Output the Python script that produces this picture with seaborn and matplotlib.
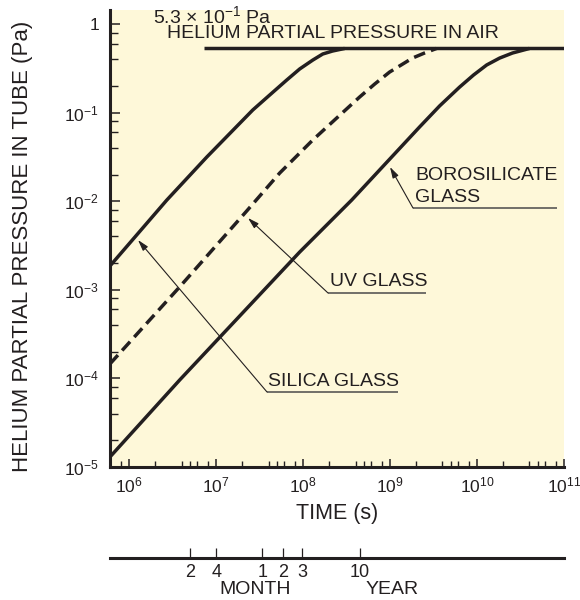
import numpy as np
import pandas as pd
import matplotlib
matplotlib.use("Agg")
import matplotlib.pyplot as plt
import matplotlib.ticker as mticker
import seaborn as sns

# ---------------- data ----------------
silica_t = [6.0e5, 2.70e6, 7.78e6, 2.63e7, 4.12e7, 6.46e7, 9.12e7, 1.29e8, 1.68e8, 2.18e8, 3.0e8]
silica_p = [1.86e-3, 1.03e-2, 3.15e-2, 0.107, 0.158, 0.233, 0.311, 0.392, 0.459, 0.496, 0.53]

uv_t = [6.0e5, 3.80e6, 2.24e7, 5.37e7, 1.29e8, 2.43e8, 4.46e8, 6.64e8, 9.86e8, 1.81e9, 2.49e9, 3.42e9]
uv_p = [1.46e-4, 1.08e-3, 7.75e-3, 2.08e-2, 4.91e-2, 0.0869, 0.150, 0.210, 0.287, 0.413, 0.471, 0.53]

boro_t = [6.0e5, 3.80e6, 9.12e7, 3.61e8, 2.18e9, 3.71e9, 6.29e9, 9.12e9, 1.29e10, 1.82e10, 2.56e10, 4.01e10]
boro_p = [1.30e-5, 9.6e-5, 2.67e-3, 1.03e-2, 6.88e-2, 0.119, 0.194, 0.266, 0.345, 0.413, 0.471, 0.53]

air_t = [7.2e6, 1.0e11]
air_p = [0.53, 0.53]

time_marks = [5.0e6, 1.0e7, 3.4e7, 5.9e7, 9.8e7, 4.5e8]
time_mark_labels = ["2", "4", "1", "2", "3", "10"]

# ---------------- style ----------------
sns.set_style("ticks")
plt.rcParams["font.family"] = ["Liberation Sans", "DejaVu Sans"]
plt.rcParams["mathtext.default"] = "regular"
INK = "#231f20"
CREAM = "#fef8d9"

fig = plt.figure(figsize=(5.8, 6.0), dpi=100)
ax = fig.add_axes([110 / 580, 1 - 467 / 600, 454 / 580, 457 / 600])
ax.set_facecolor(CREAM)

def draw(t, p, dashed=False):
    df = pd.DataFrame({"t": t, "p": p})
    sns.lineplot(data=df, x="t", y="p", ax=ax, color=INK, lw=2.5,
                 sort=False, estimator=None,
                 dashes=False, solid_capstyle="butt", solid_joinstyle="round",
                 linestyle="--" if dashed else "-")

draw(air_t, air_p)
draw(silica_t, silica_p)
draw(boro_t, boro_p)
draw(uv_t, uv_p, dashed=True)
for ln in ax.lines:
    if ln.get_linestyle() == "--":
        ln.set_dashes((3.4, 1.8))

ax.set_xscale("log")
ax.set_yscale("log")
ax.set_xlim(6.0e5, 1.0e11)
ax.set_ylim(1.0e-5, 1.44)

for s in ["top", "right"]:
    ax.spines[s].set_visible(False)
for s in ["left", "bottom"]:
    ax.spines[s].set_linewidth(2.2)
    ax.spines[s].set_color(INK)

def yfmt(v, pos):
    e = int(round(np.log10(v)))
    return "1" if e == 0 else r"$10^{%d}$" % e

def xfmt(v, pos):
    e = int(round(np.log10(v)))
    return r"$10^{%d}$" % e

ax.yaxis.set_major_locator(mticker.LogLocator(base=10, numticks=20))
ax.yaxis.set_minor_locator(mticker.LogLocator(base=10, subs=(2, 4, 6, 8), numticks=20))
ax.yaxis.set_major_formatter(mticker.FuncFormatter(yfmt))
ax.yaxis.set_minor_formatter(mticker.NullFormatter())
ax.xaxis.set_major_locator(mticker.LogLocator(base=10, numticks=20))
ax.xaxis.set_minor_locator(mticker.LogLocator(base=10, subs=(2, 4, 5, 6, 8), numticks=20))
ax.xaxis.set_major_formatter(mticker.FuncFormatter(xfmt))
ax.xaxis.set_minor_formatter(mticker.NullFormatter())

ax.tick_params(axis="y", which="major", direction="in", length=7.5, width=1.1,
               color=INK, labelsize=12.5, labelcolor=INK, pad=8)
ax.tick_params(axis="y", which="minor", direction="in", length=6, width=1.0, color=INK)
ax.tick_params(axis="x", which="major", direction="in", length=6, width=1.1,
               color=INK, labelsize=12.5, labelcolor=INK, pad=6)
ax.tick_params(axis="x", which="minor", direction="in", length=4, width=1.0, color=INK)

ax.set_xlabel("TIME (s)", fontsize=15.5, color=INK)
ax.xaxis.set_label_coords(0.5, (467 - 513) / 457)
ax.xaxis.label.set_va("center")
ax.set_ylabel("HELIUM PARTIAL PRESSURE IN TUBE (Pa)", fontsize=16, color=INK)
ax.yaxis.set_label_coords((22.5 - 110) / 454, (467 - 246) / 457)
ax.yaxis.label.set_va("center")

# ---------------- annotations (pixel -> axes fraction) ----------------
def fx(px):
    return (px - 110) / 454

def fy(py):
    return (467 - py) / 457

TS = 14
ax.text(fx(153), fy(16), r"5.3 × $10^{-1}$ Pa", fontsize=TS, color=INK,
        transform=ax.transAxes, ha="left", va="center", clip_on=False)
ax.text(fx(167), fy(34), "HELIUM PARTIAL PRESSURE IN AIR", fontsize=TS, color=INK,
        transform=ax.transAxes, ha="left", va="center", clip_on=False)

def callout(lines, text_x, text_ys, ul_y, ul_x0, ul_x1, tip):
    for s, yy in zip(lines, text_ys):
        ax.text(fx(text_x), fy(yy), s, fontsize=TS, color=INK,
                transform=ax.transAxes, ha="left", va="center")
    ax.plot([fx(ul_x0), fx(ul_x1)], [fy(ul_y), fy(ul_y)], color="#4a4a4a",
            lw=1.1, transform=ax.transAxes, solid_capstyle="butt")
    ax.annotate("", xy=(fx(tip[0]), fy(tip[1])), xytext=(fx(ul_x0), fy(ul_y)),
                xycoords="axes fraction", textcoords="axes fraction",
                arrowprops=dict(arrowstyle="-|>,head_length=0.55,head_width=0.16",
                                lw=0.8, color=INK, shrinkA=0, shrinkB=0,
                                mutation_scale=12))

callout(["BOROSILICATE", "GLASS"], 415, [175, 197], 208, 413, 557, (390, 167))
callout(["UV GLASS"], 330, [282], 293, 328, 426, (248, 218))
callout(["SILICA GLASS"], 268, [382], 392, 267, 398, (138, 240))

# ---------------- secondary time scale ----------------
ax2 = fig.add_axes([110 / 580, 1 - 558 / 600, 454 / 580, 0.012])
ax2.set_xscale("log")
ax2.set_xlim(ax.get_xlim())
ax2.patch.set_visible(False)
for s in ["top", "right", "left"]:
    ax2.spines[s].set_visible(False)
ax2.spines["bottom"].set_linewidth(2.2)
ax2.spines["bottom"].set_color(INK)
ax2.set_yticks([])
ax2.xaxis.set_minor_locator(mticker.NullLocator())
ax2.set_xticks(time_marks)
ax2.set_xticklabels(time_mark_labels)
ax2.tick_params(axis="x", which="major", direction="in", length=7.5, width=0.9,
                color=INK, labelsize=13, labelcolor=INK, pad=4)
fig.text(255 / 580, 1 - 590 / 600, "MONTH", fontsize=TS, color=INK, ha="center", va="center")
fig.text(392 / 580, 1 - 590 / 600, "YEAR", fontsize=TS, color=INK, ha="center", va="center")

fig.savefig("out.png", dpi=100)
